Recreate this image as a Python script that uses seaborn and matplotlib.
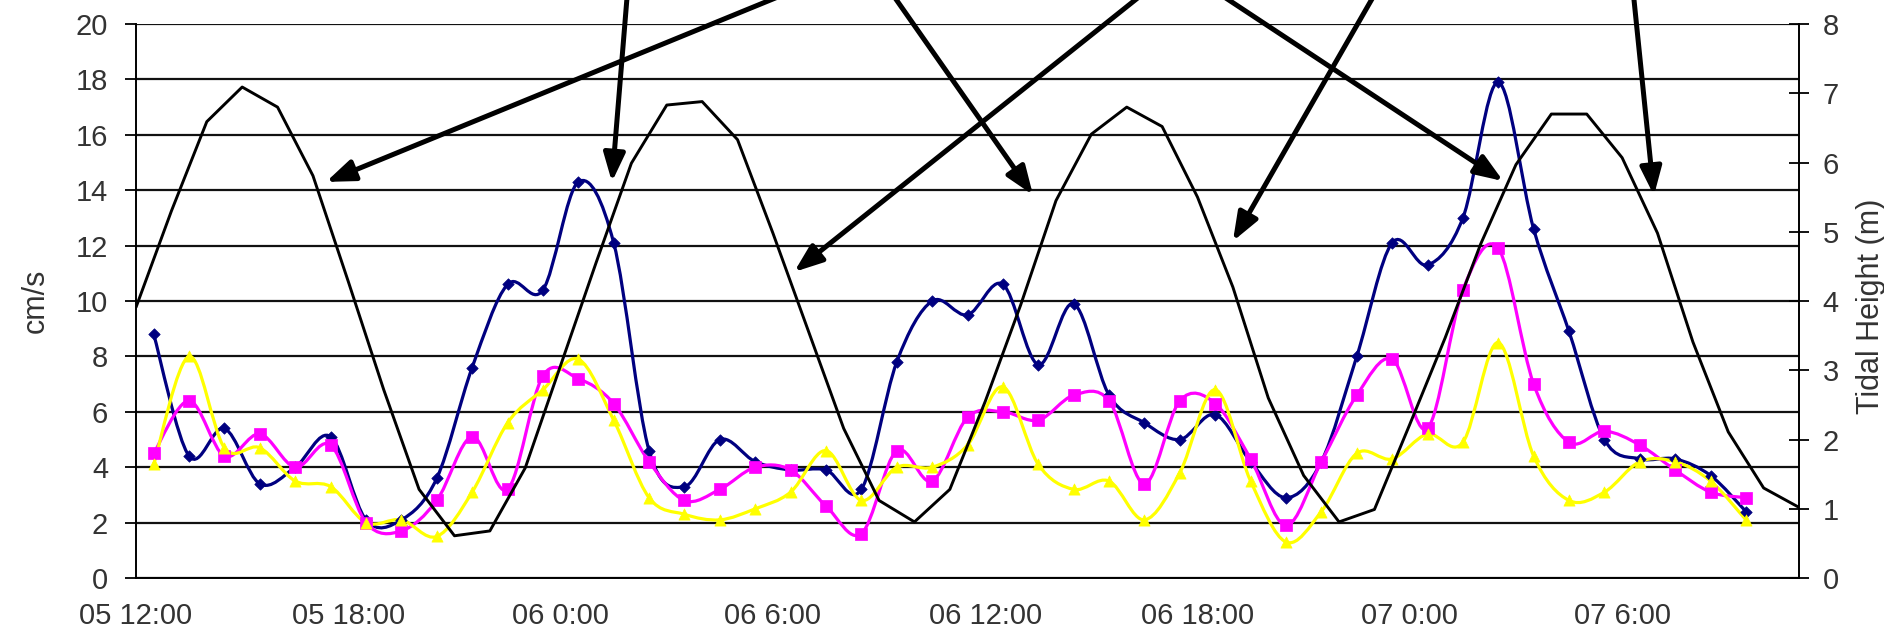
import numpy as np
import matplotlib
matplotlib.use("Agg")
import matplotlib.pyplot as plt
from matplotlib.path import Path
from matplotlib.patches import PathPatch
import seaborn as sns

# hours after 05 12:00, hourly readings
speed_hours = np.arange(0.5, 46.0, 1.0)
tide_hours = np.arange(0.0, 48.0, 1.0)

blue_speed = [8.8, 4.4, 5.4, 3.4, 4.0, 5.1, 2.1, 2.1, 3.6, 7.6, 10.6, 10.4, 14.3, 12.1, 4.6, 3.3,
              5.0, 4.2, 3.9, 3.9, 3.2, 7.8, 10.0, 9.5, 10.6, 7.7, 9.9, 6.6, 5.6, 5.0, 5.9, 4.2,
              2.9, 4.2, 8.0, 12.1, 11.3, 13.0, 17.9, 12.6, 8.9, 5.0, 4.3, 4.3, 3.7, 2.4]
pink_speed = [4.5, 6.4, 4.4, 5.2, 4.0, 4.8, 2.0, 1.7, 2.8, 5.1, 3.2, 7.3, 7.2, 6.3, 4.2, 2.8,
              3.2, 4.0, 3.9, 2.6, 1.6, 4.6, 3.5, 5.8, 6.0, 5.7, 6.6, 6.4, 3.4, 6.4, 6.3, 4.3,
              1.9, 4.2, 6.6, 7.9, 5.4, 10.4, 11.9, 7.0, 4.9, 5.3, 4.8, 3.9, 3.1, 2.9]
yellow_speed = [4.1, 8.0, 4.7, 4.7, 3.5, 3.3, 2.0, 2.1, 1.5, 3.1, 5.6, 6.8, 7.9, 5.7, 2.9, 2.3,
                2.1, 2.5, 3.1, 4.6, 2.8, 4.0, 4.0, 4.8, 6.9, 4.1, 3.2, 3.5, 2.1, 3.8, 6.8, 3.5,
                1.3, 2.4, 4.5, 4.3, 5.2, 4.9, 8.5, 4.4, 2.8, 3.1, 4.2, 4.2, 3.5, 2.1]
tide_height = [3.91, 5.3, 6.59, 7.09, 6.8, 5.81, 4.28, 2.72, 1.28, 0.61, 0.68, 1.59, 3.07, 4.55,
               5.99, 6.83, 6.88, 6.33, 4.98, 3.57, 2.16, 1.12, 0.81, 1.28, 2.55, 3.94, 5.45, 6.41,
               6.8, 6.52, 5.5, 4.2, 2.6, 1.48, 0.81, 0.99, 2.22, 3.47, 4.82, 5.97, 6.7, 6.7,
               6.07, 4.98, 3.41, 2.11, 1.3, 1.02]

time_ticks = [0, 6, 12, 18, 24, 30, 36, 42]
time_labels = ["05 12:00", "05 18:00", "06 0:00", "06 6:00",
               "06 12:00", "06 18:00", "07 0:00", "07 6:00"]

# arrows coming from a (cropped) note above the chart, in (hour, cm/s)
arrow_tails = [(20.0, 21.95), (13.94, 21.95), (20.9, 21.95), (29.3, 21.95),
               (29.6, 21.95), (35.4, 21.95), (42.25, 21.95)]
arrow_heads = [(5.37, 14.3), (13.45, 14.3), (25.35, 13.83), (18.6, 11.05),
               (38.64, 14.33), (31.0, 12.16), (42.9, 13.81)]


def smooth_path(x, y):
    # Excel-like smoothed line: Catmull-Rom as cubic Bezier segments
    pts = np.column_stack([x, y]).astype(float)
    ext = np.vstack([pts[0], pts, pts[-1]])
    verts = [pts[0]]
    codes = [Path.MOVETO]
    for i in range(len(pts) - 1):
        p0, p1, p2, p3 = ext[i], ext[i + 1], ext[i + 2], ext[i + 3]
        verts += [p1 + (p2 - p0) / 6.0, p2 - (p3 - p1) / 6.0, p2]
        codes += [Path.CURVE4] * 3
    return Path(verts, codes)


sns.set_style("white")
plt.rcParams['font.family'] = ['Liberation Sans', 'DejaVu Sans']

fig, ax = plt.subplots(figsize=(18.84, 6.34), dpi=100)
fig.subplots_adjust(left=0.0722, right=0.9549, bottom=0.0883, top=0.9621)

series = [(blue_speed, "#000080", "D", 34),
          (pink_speed, "#FF00FF", "s", 70),
          (yellow_speed, "#FFFF00", "^", 65)]
for vals, col, mk, sz in series:
    ax.add_patch(PathPatch(smooth_path(speed_hours, vals), fill=False,
                           edgecolor=col, lw=2.3, zorder=3))
    sns.scatterplot(x=speed_hours, y=vals, marker=mk, s=sz, color=col,
                    edgecolor=col, linewidth=0.5, ax=ax, zorder=4, legend=False)

ax.set_xlim(0, 47)
ax.set_ylim(0, 20)
ax.set_yticks(range(0, 21, 2))
ax.set_xticks(time_ticks)
ax.set_xticklabels(time_labels)
ax.grid(axis='y', color='#111111', lw=1.6)
ax.grid(axis='x', visible=False)
ax.set_axisbelow(True)
ax.set_ylabel("cm/s", fontsize=22, color='#333333')
ax.yaxis.label.set_va('center')
ax.yaxis.set_label_coords(-0.060, 0.5)
ax.tick_params(axis='y', direction='out', length=8, width=1.3, pad=12,
               labelsize=21, color='black', labelcolor='#333333')
ax.tick_params(axis='x', direction='out', length=7, width=1.3, pad=10,
               labelsize=21, color='black', labelcolor='#333333')
for side in ['left', 'bottom']:
    ax.spines[side].set_color('black')
    ax.spines[side].set_linewidth(1.4)
ax.spines['top'].set_visible(False)
ax.spines['right'].set_visible(False)

ax2 = ax.twinx()
sns.lineplot(x=tide_hours, y=tide_height, color='black', lw=2.1, ax=ax2,
             estimator=None, sort=False)
ax2.set_ylim(0, 8)
ax2.set_yticks(range(0, 9))
ax2.set_ylabel("Tidal Height (m)", fontsize=22, color='#333333', rotation=90)
ax2.yaxis.label.set_va('center')
ax2.yaxis.set_label_coords(1.0435, 0.49)
ax2.tick_params(axis='y', direction='inout', length=14, width=1.3, pad=10,
                labelsize=21, color='black', labelcolor='#333333')
ax2.spines['right'].set_color('black')
ax2.spines['right'].set_linewidth(1.4)
for side in ['left', 'top', 'bottom']:
    ax2.spines[side].set_visible(False)

for (tx, ty), (hx, hy) in zip(arrow_tails, arrow_heads):
    ax2.annotate("", xy=(hx, hy), xytext=(tx, ty),
                 xycoords=ax.transData, textcoords=ax.transData,
                 annotation_clip=False,
                 arrowprops=dict(arrowstyle="-|>,head_length=0.95,head_width=0.36",
                                 mutation_scale=18, lw=3.6, color='black',
                                 shrinkA=0, shrinkB=0))

fig.savefig("out.png", dpi=100)
